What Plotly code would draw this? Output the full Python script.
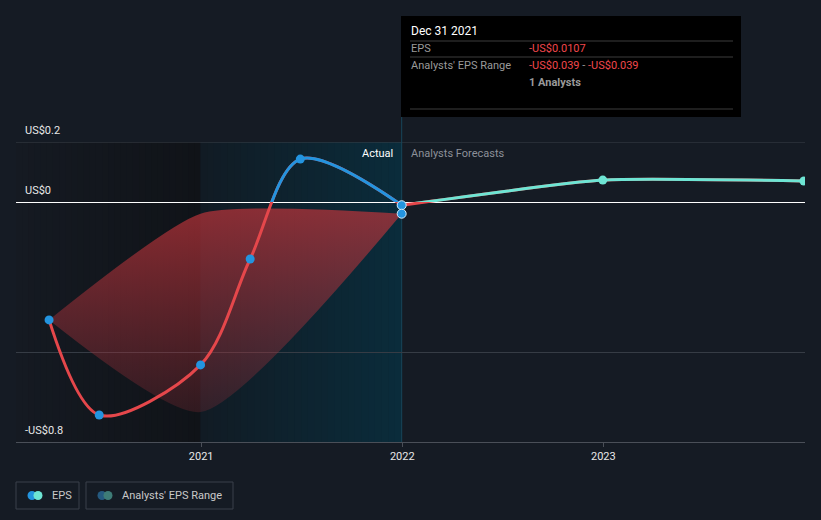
import plotly.graph_objects as go
import pandas as pd

# ---------------- data ----------------
actual_dates = ['2020-03-31', '2020-06-30', '2020-12-31', '2021-03-31', '2021-06-30', '2021-12-31']
actual_eps = [-0.393, -0.71, -0.543, -0.19, 0.143, -0.0107]

forecast_dates = ['2021-12-31', '2022-12-31', '2023-12-31']
forecast_eps = [-0.0107, 0.073, 0.07]

range_dates = ['2020-03-31', '2020-12-31', '2021-12-31']
range_low = [-0.393, -0.70, -0.039]
range_high = [-0.393, -0.039, -0.039]

forecast_point_date = ['2021-12-31']
forecast_point_val = [-0.039]

tick_years = ['2021', '2022', '2023']
y_label_vals = [0.2, 0.0, -0.8]
y_label_text = ['US$0.2', 'US$0', '-US$0.8']
grid_vals = [0.2, -0.5]

x_range = ['2020-01-31', '2024-01-02']
y_range = [-0.8, 0.2]
past_start = '2020-01-31'
actual_start = '2020-12-31'
actual_end = '2021-12-31'

# ---------------- style ----------------
BG = '#151b24'
RED = '#e5474b'
BLUE = '#2394df'
TEAL = '#6ee5d4'
FONT = 'Roboto'
W, H = 821, 520
L, R, T, B = 16, 16, 142, 78
PW, PH = W - L - R, H - T - B


def px2x(px):
    return (px - L) / PW


def px2y(py):
    return (H - B - py) / PH


def hex2rgb(h):
    h = h.lstrip('#')
    return tuple(int(h[i:i + 2], 16) for i in (0, 2, 4))


def mix(c0, c1, t):
    a, b = hex2rgb(c0), hex2rgb(c1)
    return 'rgb(%d,%d,%d)' % tuple(round(a[i] + (b[i] - a[i]) * t) for i in range(3))


shapes = []
annotations = []


def gradient_region(start, end, c0, c1, n=30):
    edges = pd.date_range(pd.Timestamp(start), pd.Timestamp(end), periods=n + 1)
    for i in range(n):
        shapes.append(dict(type='rect', xref='x', yref='paper',
                           x0=edges[i], x1=edges[i + 1] + pd.Timedelta(days=1) if i < n - 1 else edges[i + 1],
                           y0=0, y1=1, fillcolor=mix(c0, c1, (i + 0.5) / n),
                           line=dict(width=0), layer='below'))


gradient_region(past_start, actual_start, '#151a22', '#101318')
gradient_region(actual_start, actual_end, '#111b24', '#0a2c3b')

# top gridline (plotly drops grid lines at the range edge)
shapes.append(dict(type='line', xref='paper', yref='y', x0=0, x1=1, y0=y_range[1], y1=y_range[1],
                   line=dict(color='#3a4049', width=1), layer='below'))

fig = go.Figure()

# analysts range band
fig.add_trace(go.Scatter(
    x=range_dates, y=range_low, mode='lines',
    line=dict(width=0, shape='spline', smoothing=0.6),
    hoverinfo='skip', showlegend=False))
fig.add_trace(go.Scatter(
    x=range_dates, y=range_high, mode='lines', fill='tonexty',
    line=dict(width=0, shape='spline', smoothing=0.55),
    fillgradient=dict(type='vertical',
                      colorscale=[[0, 'rgba(165,50,60,0.22)'], [1, 'rgba(190,52,58,0.7)']]),
    hoverinfo='skip', showlegend=False))

# red (negative) lines on main axis
fig.add_trace(go.Scatter(
    x=actual_dates, y=actual_eps, mode='lines',
    line=dict(color=RED, width=3, shape='spline', smoothing=0.9),
    hoverinfo='skip', showlegend=False))
fig.add_trace(go.Scatter(
    x=forecast_dates, y=forecast_eps, mode='lines',
    line=dict(color=RED, width=3, shape='spline', smoothing=0.5),
    hoverinfo='skip', showlegend=False))

# positive parts on clipped axis y2
fig.add_trace(go.Scatter(
    x=actual_dates, y=actual_eps, mode='lines', yaxis='y2',
    line=dict(color=BLUE, width=3, shape='spline', smoothing=0.9),
    hoverinfo='skip', showlegend=False))
fig.add_trace(go.Scatter(
    x=forecast_dates, y=forecast_eps, mode='lines', yaxis='y2',
    line=dict(color=TEAL, width=3, shape='spline', smoothing=0.5),
    hoverinfo='skip', showlegend=False))

# markers
fig.add_trace(go.Scatter(
    x=actual_dates[:-1], y=actual_eps[:-1], mode='markers', yaxis='y3',
    marker=dict(color=BLUE, size=9), hoverinfo='skip', showlegend=False))
fig.add_trace(go.Scatter(
    x=actual_dates[-1:] + forecast_point_date, y=actual_eps[-1:] + forecast_point_val,
    mode='markers', yaxis='y3',
    marker=dict(color=BLUE, size=9, line=dict(color='#d6eefc', width=1)),
    hoverinfo='skip', showlegend=False))
fig.add_trace(go.Scatter(
    x=forecast_dates[1:], y=forecast_eps[1:], mode='markers', yaxis='y3',
    marker=dict(color=TEAL, size=9), hoverinfo='skip', showlegend=False))

# hover vertical line
shapes.append(dict(type='line', xref='x', yref='paper', x0=actual_end, x1=actual_end,
                   y0=0, y1=px2y(117), line=dict(color='#17465a', width=1), layer='below'))

# y labels
for v, t in zip(y_label_vals, y_label_text):
    annotations.append(dict(x=0, xref='paper', y=v, yref='y', text=t, showarrow=False,
                            xanchor='left', yanchor='bottom', xshift=7, yshift=3,
                            font=dict(family=FONT, size=11, color='#e8e8e8')))

annotations.append(dict(x=actual_end, xref='x', y=1, yref='paper', text='Actual', showarrow=False,
                        xanchor='right', yanchor='top', xshift=-7, yshift=-3,
                        font=dict(family=FONT, size=11, color='#ffffff')))
annotations.append(dict(x=actual_end, xref='x', y=1, yref='paper', text='Analysts Forecasts',
                        showarrow=False, xanchor='left', yanchor='top', xshift=7, yshift=-3,
                        font=dict(family=FONT, size=11, color='#8c9099')))

# tooltip box
shapes.append(dict(type='rect', xref='paper', yref='paper', x0=px2x(401), x1=px2x(741),
                   y0=px2y(117), y1=px2y(16), fillcolor='#000000', line=dict(width=0),
                   layer='above'))
for py in (41, 57, 109):
    shapes.append(dict(type='line', xref='paper', yref='paper', x0=px2x(410), x1=px2x(733),
                       y0=px2y(py), y1=px2y(py), line=dict(color='#3c3c3c', width=1),
                       layer='above'))


def tip(px, py, text, color, size=11):
    annotations.append(dict(x=px2x(px), xref='paper', y=px2y(py), yref='paper', text=text,
                            showarrow=False, xanchor='left', yanchor='middle',
                            font=dict(family=FONT, size=size, color=color)))


tip(409, 31, 'Dec 31 2021', '#ffffff', 12)
tip(409, 49, 'EPS', '#9a9a9a')
tip(527, 49, '-US$0.0107', '#f0474c')
tip(409, 66, "Analysts' EPS Range", '#9a9a9a')
tip(527, 66, "<span style='color:#f0474c'>-US$0.039</span> - <span style='color:#f0474c'>-US$0.039</span>",
    '#9a9a9a')
tip(527, 83, '<b>1 Analysts</b>', '#9a9a9a')

# legend
for (x0, x1) in ((16, 79), (86, 233)):
    shapes.append(dict(type='rect', xref='paper', yref='paper', x0=px2x(x0), x1=px2x(x1),
                       y0=px2y(509), y1=px2y(482), line=dict(color='#3b414b', width=1),
                       fillcolor='rgba(0,0,0,0)'))


def circle(cx, cy, r, color):
    shapes.append(dict(type='circle', xref='paper', yref='paper',
                       x0=px2x(cx - r), x1=px2x(cx + r), y0=px2y(cy + r), y1=px2y(cy - r),
                       fillcolor=color, line=dict(width=0)))


circle(32, 495.5, 4.5, BLUE)
circle(38, 495.5, 4.5, TEAL)
circle(102, 495.5, 4.5, '#255a80')
circle(108, 495.5, 4.5, '#3e7c77')
annotations.append(dict(x=px2x(50), xref='paper', y=px2y(495.5), yref='paper', text='EPS',
                        showarrow=False, xanchor='left', yanchor='middle',
                        font=dict(family=FONT, size=11, color='#c9c9c9')))
annotations.append(dict(x=px2x(120), xref='paper', y=px2y(495.5), yref='paper',
                        text="Analysts' EPS Range", showarrow=False, xanchor='left',
                        yanchor='middle', font=dict(family=FONT, size=11, color='#c9c9c9')))

fig.update_layout(
    width=W, height=H,
    margin=dict(l=L, r=R, t=T, b=B, pad=0),
    paper_bgcolor=BG, plot_bgcolor='rgba(0,0,0,0)',
    showlegend=False, hovermode=False,
    font=dict(family=FONT, color='#e8e8e8', size=11),
    xaxis=dict(type='date', range=x_range, anchor='y',
               tickvals=[y + '-01-01' for y in tick_years], ticktext=tick_years,
               showgrid=False, zeroline=False, showline=True, linecolor='#4a4f58', linewidth=1,
               ticks='outside', ticklen=4, tickcolor='#4a4f58',
               tickfont=dict(family=FONT, size=11, color='#e8e8e8')),
    yaxis=dict(range=y_range, domain=[0, 1], anchor='x', tickvals=grid_vals,
               showticklabels=False, showgrid=True, gridcolor='#363c45', gridwidth=1,
               zeroline=True, zerolinecolor='#ffffff', zerolinewidth=1,
               showline=False, ticks=''),
    yaxis2=dict(range=[0, y_range[1]], domain=[-y_range[0] / (y_range[1] - y_range[0]), 1],
                anchor='x', visible=False),
    yaxis3=dict(range=y_range, domain=[0, 1], anchor='x', visible=False),
    shapes=shapes, annotations=annotations,
)

fig.write_html('out.html')
